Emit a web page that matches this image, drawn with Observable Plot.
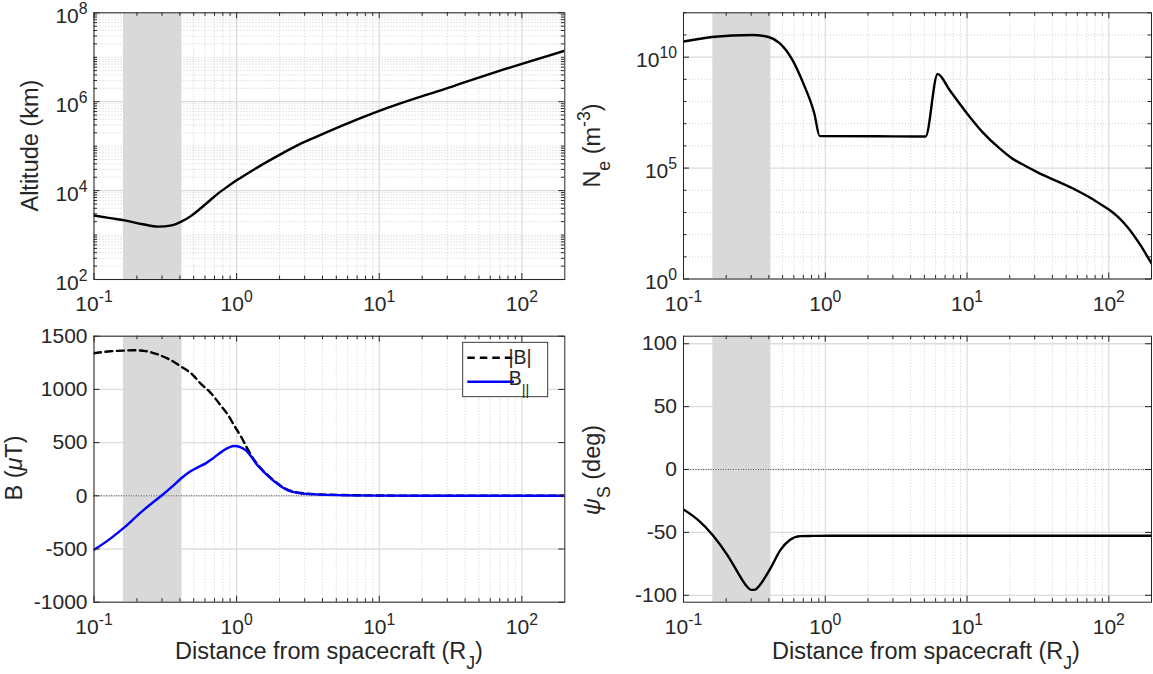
<!DOCTYPE html>
<html>
<head>
<meta charset="utf-8">
<script src="https://cdn.jsdelivr.net/npm/d3@7"></script>
<script src="https://cdn.jsdelivr.net/npm/@observablehq/plot@0.6"></script>
<style>
  body { margin: 0; background: #fff; }
  #fig { position: relative; width: 1153px; height: 674px; background: #fff; }
  #fig svg { position: absolute; overflow: visible; }
</style>
</head>
<body>
<div id="fig"></div>
<script>
// shaded interval (R_J)
const shade = [{x1: 0.161, x2: 0.414}];

// altitude vs distance
const altX  = [0.1, 0.13, 0.164, 0.22, 0.281, 0.35, 0.415, 0.48, 0.56, 0.66, 0.755, 0.87, 1, 1.46, 1.97, 2.6, 3.58, 5.5, 10, 29, 100, 200];
const altKm = [2750, 2400, 2140, 1750, 1550, 1650, 2050, 2700, 4000, 6300, 9000, 12500, 17000, 36000, 62000, 100000, 160000, 290000, 620000, 1950000, 7100000, 14000000];

// electron density
const neX = [0.1, 0.159, 0.22, 0.305, 0.398, 0.476, 0.586, 0.70, 0.837, 0.914, 3, 5.1, 6.2, 7.55, 10, 12.8, 17.2, 21, 24, 31.2, 56.4, 75, 90, 100, 115, 137, 165, 200];
const neM3 = [5.1e10, 8.1e10, 9.5e10, 1.0e11, 8.1e10, 4.3e10, 7.6e9, 6.6e8, 2.9e7, 2.75e6, 2.7e6, 2.65e6, 1.74e9, 3.2e8, 2.9e7, 4.3e6, 7.1e5, 2.6e5, 1.6e5, 6.6e4, 1.17e4, 4400, 2100, 1350, 660, 200, 38, 5];

// magnetic field
const bMagX = [0.1, 0.13, 0.164, 0.19, 0.23, 0.273, 0.34, 0.415, 0.49, 0.56, 0.65, 0.773, 0.87, 0.96, 1.08, 1.19, 1.3, 1.4, 1.74, 2.27, 2.82, 4.3, 10, 30, 200];
const bMag  = [1340, 1358, 1365, 1368, 1360, 1334, 1280, 1209, 1140, 1054, 975, 850, 760, 662, 550, 444, 355, 295, 168, 58, 26, 11, 3, 0.5, 0];
const bParX = [0.1, 0.131, 0.164, 0.214, 0.257, 0.303, 0.356, 0.405, 0.461, 0.53, 0.607, 0.694, 0.797, 0.96, 1.07, 1.16, 1.4, 1.74, 2.27, 2.82, 4.3, 10, 30, 200];
const bPar  = [-508, -400, -295, -154, -65, 10, 90, 160, 220, 265, 305, 359, 420, 468, 455, 428, 287, 162, 54, 23, 9, 2, 0, 0];

// psi_S
const psiX = [0.1, 0.127, 0.161, 0.204, 0.244, 0.26, 0.28, 0.30, 0.32, 0.345, 0.375, 0.416, 0.482, 0.559, 0.668, 0.8, 1.07, 200];
const psiDeg = [-31.7, -40.2, -52.2, -68.1, -82.7, -88, -93, -95.7, -95.5, -92, -86, -77.4, -64.1, -56.2, -53, -52.8, -52.7, -52.7];

// axes
const xDomain = [0.1, 200];
const xMajor = [0.1, 1, 10, 100];
const altMajor = [1e2, 1e4, 1e6, 1e8];
const neMajor = [1e0, 1e5, 1e10];
const neMinor = [1e1, 1e2, 1e3, 1e4, 1e6, 1e7, 1e8, 1e9, 1e11, 1e12];
const bMajor = [-1000, -500, 0, 500, 1000, 1500];
const psiMajor = [-100, -50, 0, 50, 100];

const FONT = '"Liberation Sans", Arial, Helvetica, sans-serif';
const INK = "#262626";
const GRID = "#dcdcdc";
const GRID_MINOR = "#c4c4c4";

// j*10^k minor positions inside [lo, hi]
function minorLog(lo, hi) {
  const out = [];
  for (let k = Math.floor(Math.log10(lo)); k <= Math.ceil(Math.log10(hi)); k++)
    for (let j = 2; j <= 9; j++) {
      const v = j * Math.pow(10, k);
      if (v > lo && v < hi) out.push(v);
    }
  return out;
}
const xMinor = minorLog(xDomain[0], xDomain[1]);
const altMinor = minorLog(1e2, 1e8).concat([1e3, 1e5, 1e7]);

const logFmt = d => "10^" + Math.round(Math.log10(d));
const linFmt = d => String(d);

function panel(o) {
  const iw = o.w - o.m[3] - o.m[1];
  const ih = o.h - o.m[0] - o.m[2];
  const T = 6, t = 3.5;
  const svg = Plot.plot({
    width: o.w, height: o.h,
    marginTop: o.m[0], marginRight: o.m[1], marginBottom: o.m[2], marginLeft: o.m[3],
    style: {fontFamily: FONT, fontSize: "21px", color: INK, background: "transparent"},
    x: {type: "log", domain: xDomain, label: null},
    y: {type: o.yType, domain: o.yDomain, label: null},
    marks: [
      Plot.ruleX(xMinor, {stroke: GRID_MINOR, strokeDasharray: "1,2", strokeWidth: 0.8}),
      Plot.ruleX(xMajor, {stroke: GRID, strokeWidth: 1.2}),
      o.yMinor ? Plot.ruleY(o.yMinor, {stroke: GRID_MINOR, strokeDasharray: "1,2", strokeWidth: 0.8}) : null,
      Plot.ruleY(o.yMajor, {stroke: GRID, strokeWidth: 1.3}),
      Plot.rect(shade, {x1: "x1", x2: "x2", y1: o.yDomain[0], y2: o.yDomain[1], fill: "#d9d9d9"}),
      o.zero ? Plot.ruleY([0], {stroke: "#333", strokeDasharray: "1,1.5", strokeWidth: 0.8}) : null,
      ...o.marks,
      Plot.tickX(xMajor, {stroke: INK, insetTop: ih - T}),
      Plot.tickX(xMajor, {stroke: INK, insetBottom: ih - T}),
      Plot.tickX(xMinor, {stroke: INK, insetTop: ih - t}),
      Plot.tickX(xMinor, {stroke: INK, insetBottom: ih - t}),
      Plot.tickY(o.yMajor, {stroke: INK, insetRight: iw - T}),
      Plot.tickY(o.yMajor, {stroke: INK, insetLeft: iw - T}),
      o.yMinor ? Plot.tickY(o.yMinor, {stroke: INK, insetRight: iw - t}) : null,
      o.yMinor ? Plot.tickY(o.yMinor, {stroke: INK, insetLeft: iw - t}) : null,
      Plot.frame({stroke: INK, strokeWidth: 1}),
      Plot.axisX({ticks: xMajor, tickSize: 0, tickPadding: 17, tickFormat: logFmt, label: null, fontSize: 21}),
      Plot.axisY({ticks: o.yMajor, tickSize: 0, tickPadding: 6.5, tickFormat: o.yFormat, label: null, fontSize: 21, dy: o.yDy || 0})
    ]
  });
  d3.select(svg).style("left", o.x0 + "px").style("top", o.y0 + "px");
  // superscripts for 10^k labels
  d3.select(svg).selectAll("text").each(function() {
    const el = d3.select(this);
    const m = el.text().match(/^10\^(.+)$/);
    if (!m) return;
    el.text(null);
    el.append("tspan").text("10");
    el.append("tspan").attr("font-size", "75%").attr("dy", -9).text(m[1]);
  });
  document.getElementById("fig").appendChild(svg);
  return svg;
}

// rich label with sub/superscripts
function rich(svg, x, y, parts, rotate = 0, size = 23.5) {
  const t = d3.select(svg).append("text")
    .attr("transform", `translate(${x},${y}) rotate(${rotate})`)
    .attr("text-anchor", "middle")
    .attr("font-family", FONT).attr("font-size", size).attr("fill", INK);
  let shift = 0;
  for (const p of parts) {
    const s = t.append("tspan").text(p.t);
    const target = p.sub ? size * 0.42 : p.sup ? -size * 0.42 : 0;
    if (target !== shift) { s.attr("dy", target - shift); shift = target; }
    if (p.sub || p.sup) s.attr("font-size", size * 0.75);
    if (p.it) s.attr("font-style", "italic");
  }
  return t;
}

const xLabel = [{t: "Distance from spacecraft (R"}, {t: "J", sub: true}, {t: ")"}];

// top left: altitude
const tl = panel({
  x0: 0, y0: 0, w: 580, h: 320, m: [12.3, 15.7, 41, 93.5],
  yType: "log", yDomain: [1e2, 1e8], yMajor: altMajor, yMinor: altMinor, yFormat: logFmt, yDy: 3.5,
  marks: [Plot.line(altKm, {x: altX, y: altKm, stroke: "#000", strokeWidth: 2.4, curve: "monotone-x", clip: true})]
});
rich(tl, 38, 145.6, [{t: "Altitude (km)"}], -90);

// top right: density
const tr = panel({
  x0: 580, y0: 0, w: 573, h: 320, m: [12.3, 2, 41.5, 103],
  yType: "log", yDomain: [1, 1e12], yMajor: neMajor, yMinor: neMinor, yFormat: logFmt, yDy: 3.5,
  marks: [Plot.line(neM3, {x: neX, y: neM3, stroke: "#000", strokeWidth: 2.4, curve: "monotone-x", clip: true})]
});
rich(tr, 20, 145.5, [{t: "N"}, {t: "e", sub: true}, {t: " (m"}, {t: "-3", sup: true}, {t: ")"}], -90);

// bottom left: field
const bl = panel({
  x0: 0, y0: 320, w: 580, h: 354, m: [15.7, 15.7, 72.3, 93.5],
  yType: "linear", yDomain: [-1000, 1500], yMajor: bMajor, yFormat: linFmt, zero: true,
  marks: [
    Plot.line(bMag, {x: bMagX, y: bMag, stroke: "#000", strokeWidth: 2.4, strokeDasharray: "7,4.5", curve: "monotone-x", clip: true}),
    Plot.line(bPar, {x: bParX, y: bPar, stroke: "#0000ff", strokeWidth: 2.4, curve: "monotone-x", clip: true})
  ]
});
rich(bl, 22, 148, [{t: "B ("}, {t: "μ", it: true}, {t: "T)"}], -90);
rich(bl, 329, 339, xLabel);

// legend
{
  const g = d3.select(bl).append("g").attr("font-family", FONT).attr("font-size", 19.5).attr("fill", INK);
  g.append("rect").attr("x", 462.7).attr("y", 22.3).attr("width", 85).attr("height", 54.4)
    .attr("fill", "#fff").attr("stroke", INK).attr("stroke-width", 0.9);
  g.append("line").attr("x1", 467.3).attr("x2", 512.5).attr("y1", 37.7).attr("y2", 37.7)
    .attr("stroke", "#000").attr("stroke-width", 2.4).attr("stroke-dasharray", "7.5,5");
  g.append("text").attr("x", 520).attr("y", 43.5).text("|B|");
  g.append("line").attr("x1", 467.3).attr("x2", 514).attr("y1", 61.7).attr("y2", 61.7)
    .attr("stroke", "#0000ff").attr("stroke-width", 2.4);
  const t = g.append("text").attr("x", 519).attr("y", 65);
  t.append("tspan").text("B");
  t.append("tspan").attr("font-size", 14.5).attr("dy", 10).text("||");
}

// bottom right: psi
const br = panel({
  x0: 580, y0: 320, w: 573, h: 354, m: [15.7, 2, 72.3, 103],
  yType: "linear", yDomain: [-105.5, 106], yMajor: psiMajor, yFormat: linFmt, zero: true,
  marks: [Plot.line(psiDeg, {x: psiX, y: psiDeg, stroke: "#000", strokeWidth: 2.4, curve: "monotone-x", clip: true})]
});
rich(br, 20, 150, [{t: "ψ", it: true}, {t: "S", sub: true}, {t: " (deg)"}], -90);
rich(br, 346, 339, xLabel);
</script>
</body>
</html>
